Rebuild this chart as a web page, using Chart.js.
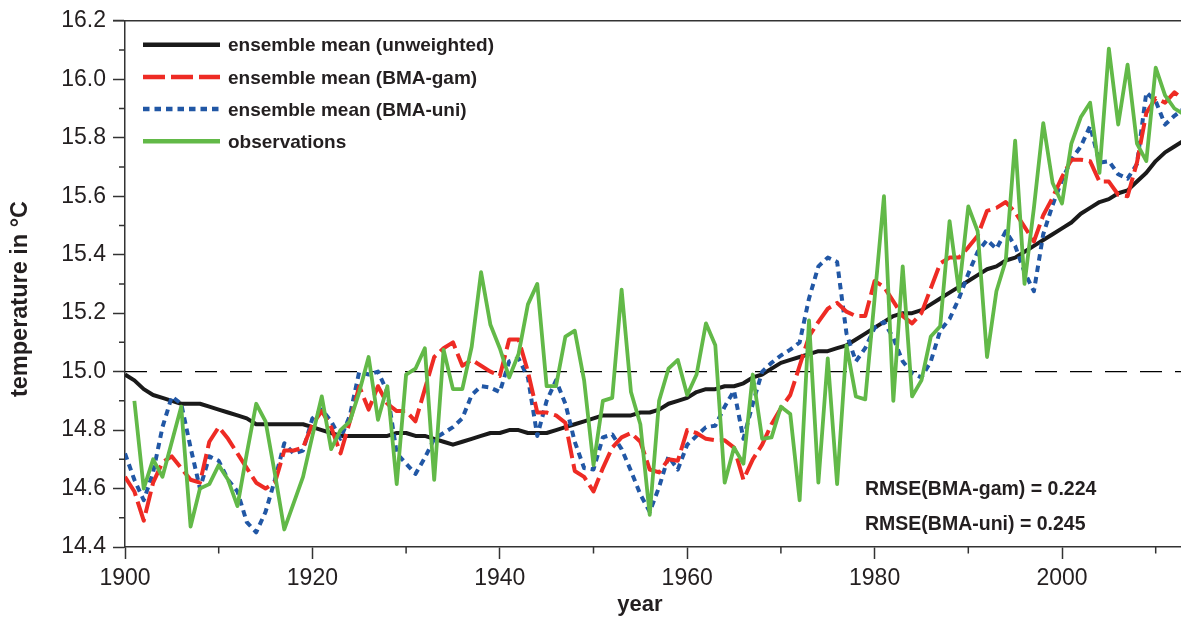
<!DOCTYPE html>
<html><head><meta charset="utf-8">
<script src="https://cdn.jsdelivr.net/npm/chart.js@4.4.0/dist/chart.umd.min.js"></script>
<style>html,body{margin:0;padding:0;background:#fff;}canvas{display:block;}</style>
</head><body>
<canvas id="c" width="1181" height="624"></canvas>
<script>
// ---------- DATA ----------
const years = Array.from({length: 114}, (_, i) => 1900 + i);

const unweighted = [
14.99,14.97,14.94,14.92,14.91,14.90,14.89,14.89,14.89,14.88,
14.87,14.86,14.85,14.84,14.82,14.82,14.82,14.82,14.82,14.82,
14.81,14.80,14.79,14.78,14.78,14.78,14.78,14.78,14.78,14.79,
14.79,14.78,14.78,14.77,14.76,14.75,14.76,14.77,14.78,14.79,
14.79,14.80,14.80,14.79,14.79,14.79,14.80,14.81,14.82,14.83,
14.84,14.85,14.85,14.85,14.85,14.86,14.86,14.87,14.89,14.90,
14.91,14.93,14.94,14.94,14.95,14.95,14.96,14.98,14.99,15.01,
15.03,15.04,15.05,15.06,15.07,15.07,15.08,15.09,15.11,15.13,
15.15,15.17,15.19,15.20,15.20,15.21,15.23,15.25,15.27,15.29,
15.31,15.33,15.35,15.36,15.38,15.39,15.41,15.43,15.45,15.47,
15.49,15.51,15.54,15.56,15.58,15.59,15.61,15.62,15.65,15.68,
15.72,15.75,15.77,15.79];

const bmaGam = [
14.64,14.59,14.49,14.62,14.69,14.71,14.67,14.63,14.62,14.76,
14.81,14.77,14.72,14.67,14.62,14.60,14.62,14.73,14.73,14.74,
14.82,14.865,14.81,14.72,14.83,14.95,14.87,14.95,14.89,14.865,
14.865,14.83,14.94,15.05,15.08,15.10,15.02,15.04,15.02,15.00,
14.985,15.11,15.11,15.00,14.86,14.86,14.85,14.825,14.66,14.64,
14.59,14.67,14.74,14.775,14.79,14.76,14.665,14.655,14.70,14.695,
14.80,14.79,14.77,14.765,14.765,14.74,14.63,14.70,14.75,14.82,
14.875,14.92,15.02,15.12,15.17,15.215,15.235,15.205,15.19,15.19,
15.31,15.29,15.24,15.19,15.165,15.20,15.285,15.37,15.39,15.39,
15.425,15.465,15.55,15.56,15.58,15.545,15.495,15.445,15.535,15.595,
15.665,15.725,15.725,15.72,15.65,15.65,15.605,15.60,15.715,15.885,
15.935,15.92,15.955,15.93];

const bmaUni = [
14.72,14.63,14.56,14.655,14.81,14.915,14.89,14.74,14.60,14.71,
14.695,14.63,14.59,14.485,14.45,14.52,14.63,14.755,14.72,14.73,
14.84,14.87,14.83,14.77,14.85,15.00,14.99,15.00,14.93,14.72,
14.685,14.65,14.705,14.77,14.79,14.81,14.84,14.92,14.95,14.945,
14.93,15.035,15.045,14.98,14.78,14.90,14.97,14.89,14.76,14.67,
14.665,14.775,14.785,14.735,14.66,14.58,14.52,14.605,14.71,14.665,
14.75,14.78,14.81,14.815,14.88,14.935,14.77,14.89,15.00,15.03,
15.055,15.075,15.10,15.25,15.36,15.39,15.375,15.13,15.035,15.08,
15.15,15.17,15.115,15.035,14.995,14.98,15.035,15.14,15.18,15.25,
15.335,15.41,15.45,15.42,15.48,15.43,15.34,15.275,15.47,15.57,
15.655,15.725,15.77,15.84,15.715,15.72,15.675,15.66,15.71,15.955,
15.925,15.845,15.875,15.90];

const observations = [
null,14.90,14.60,14.70,14.64,14.76,14.88,14.47,14.60,14.615,
14.68,14.63,14.54,14.72,14.89,14.83,14.65,14.46,14.55,14.64,
14.78,14.915,14.735,14.80,14.83,14.93,15.05,14.835,14.95,14.615,
14.99,15.01,15.08,14.63,15.075,14.94,14.94,15.085,15.34,15.16,
15.08,14.98,15.06,15.23,15.30,14.95,14.95,15.12,15.14,14.97,
14.68,14.90,14.91,15.28,14.93,14.82,14.51,14.90,15.01,15.04,
14.92,14.99,15.165,15.09,14.62,14.74,14.685,14.99,14.77,14.775,
14.88,14.855,14.56,15.175,14.62,15.045,14.615,15.09,14.915,14.905,
15.25,15.60,14.90,15.36,14.915,14.97,15.12,15.155,15.515,15.275,
15.565,15.48,15.05,15.275,15.38,15.79,15.30,15.56,15.85,15.645,
15.575,15.78,15.87,15.92,15.68,16.105,15.845,16.05,15.78,15.72,
16.04,15.945,15.90,15.88];

const refLevel = 15.0;
const refYears = [1900, 2013];

const seriesNames = ['ensemble mean (unweighted)', 'ensemble mean (BMA-gam)', 'ensemble mean (BMA-uni)', 'observations'];
const rmseLabels = ['RMSE(BMA-gam) = 0.224', 'RMSE(BMA-uni) = 0.245'];
const xTitle = 'year';
const yTitle = 'temperature in \u00B0C';

const xMajorTicks = [1900, 1920, 1940, 1960, 1980, 2000];
const xMinorTicks = [1910, 1930, 1950, 1970, 1990, 2010];
const yMajorTicks = [14.4, 14.6, 14.8, 15.0, 15.2, 15.4, 15.6, 15.8, 16.0, 16.2];
const yMinorTicks = [14.5, 14.7, 14.9, 15.1, 15.3, 15.5, 15.7, 15.9, 16.1];

// ---------- STYLE ----------
const FONT = '"Liberation Sans", Arial, Helvetica, sans-serif';
const AXIS = '#333333';
const TXT = '#231f20';
const styles = [
  {color: '#1a1a1a', width: 4, dash: []},
  {color: '#ee2b24', width: 4, dash: [22, 6]},
  {color: '#2157a5', width: 4, dash: [6.5, 5]},
  {color: '#62b948', width: 3.8, dash: []}
];
const drawOrder = [3, 1, 2, 0];

const pts = arr => years.map((y, i) => ({x: y, y: arr[i]}));
const seriesData = [unweighted, bmaGam, bmaUni, observations];

const datasets = seriesData.map((arr, i) => ({
  label: seriesNames[i],
  data: pts(arr),
  borderColor: styles[i].color,
  borderWidth: styles[i].width,
  borderDash: styles[i].dash,
  borderJoinStyle: 'round',
  order: drawOrder[i]
}));
datasets.push({
  label: 'reference',
  data: refYears.map(y => ({x: y, y: refLevel})),
  borderColor: '#000',
  borderWidth: 1.2,
  borderDash: [22, 13],
  order: 5
});

const decor = {
  id: 'decor',
  afterDraw(chart) {
    const ctx = chart.ctx;
    const a = chart.chartArea;
    const xs = chart.scales.x, ys = chart.scales.y;
    ctx.save();
    // top frame
    ctx.strokeStyle = AXIS; ctx.lineWidth = 1.5;
    ctx.beginPath(); ctx.moveTo(a.left - 12, a.top); ctx.lineTo(a.right, a.top); ctx.stroke();
    // minor ticks
    ctx.beginPath();
    xMinorTicks.forEach(v => { const px = xs.getPixelForValue(v); ctx.moveTo(px, a.bottom); ctx.lineTo(px, a.bottom + 6.5); });
    yMinorTicks.forEach(v => { const py = ys.getPixelForValue(v); ctx.moveTo(a.left, py); ctx.lineTo(a.left - 6, py); });
    ctx.stroke();
    // legend
    const rows = [44.7, 77, 109, 141.3];
    seriesNames.forEach((name, i) => {
      ctx.strokeStyle = styles[i].color;
      ctx.lineWidth = i === 0 ? 4.6 : 4.4;
      ctx.setLineDash(styles[i].dash);
      ctx.beginPath(); ctx.moveTo(143, rows[i]); ctx.lineTo(220, rows[i]); ctx.stroke();
      ctx.setLineDash([]);
      ctx.fillStyle = TXT;
      ctx.font = 'bold 19px ' + FONT;
      ctx.textBaseline = 'alphabetic';
      ctx.textAlign = 'left';
      ctx.fillText(name, 228, rows[i] + 6.5);
    });
    // RMSE
    ctx.font = 'bold 19.5px ' + FONT;
    ctx.fillText(rmseLabels[0], 865, 495);
    ctx.fillText(rmseLabels[1], 865, 530);
    // axis titles
    ctx.font = 'bold 22px ' + FONT;
    ctx.textAlign = 'center';
    ctx.fillText(xTitle, 640, 611);
    ctx.save();
    ctx.translate(27, 299);
    ctx.rotate(-Math.PI / 2);
    ctx.font = 'bold 23.5px ' + FONT;
    ctx.fillText(yTitle, 0, 0);
    ctx.restore();
    ctx.restore();
  }
};

new Chart(document.getElementById('c'), {
  type: 'line',
  data: {datasets},
  options: {
    responsive: false,
    devicePixelRatio: 1,
    animation: false,
    layout: {padding: {top: 17, right: 0, bottom: 0, left: 0}},
    elements: {point: {radius: 0}, line: {tension: 0}},
    plugins: {legend: {display: false}, tooltip: {enabled: false}},
    scales: {
      x: {
        type: 'linear', min: 1900, max: 2012.7,
        afterBuildTicks: s => { s.ticks = xMajorTicks.map(v => ({value: v})); },
        afterFit: s => { s.height = 77; },
        ticks: {font: {family: FONT, size: 23}, color: TXT, padding: 6, maxRotation: 0, autoSkip: false,
                callback: v => String(v)},
        grid: {drawOnChartArea: false, tickLength: 12, tickColor: AXIS, tickWidth: 1.5},
        border: {color: AXIS, width: 1.5}
      },
      y: {
        min: 14.4, max: 16.2,
        afterBuildTicks: s => { s.ticks = yMajorTicks.map(v => ({value: v})); },
        afterFit: s => { s.width = 125; },
        ticks: {font: {family: FONT, size: 23}, color: TXT, padding: 7, autoSkip: false,
                callback: v => Number(v).toFixed(1)},
        grid: {drawOnChartArea: false, tickLength: 12, tickColor: AXIS, tickWidth: 1.5},
        border: {color: AXIS, width: 1.5}
      }
    }
  },
  plugins: [decor]
});
</script>
</body></html>
